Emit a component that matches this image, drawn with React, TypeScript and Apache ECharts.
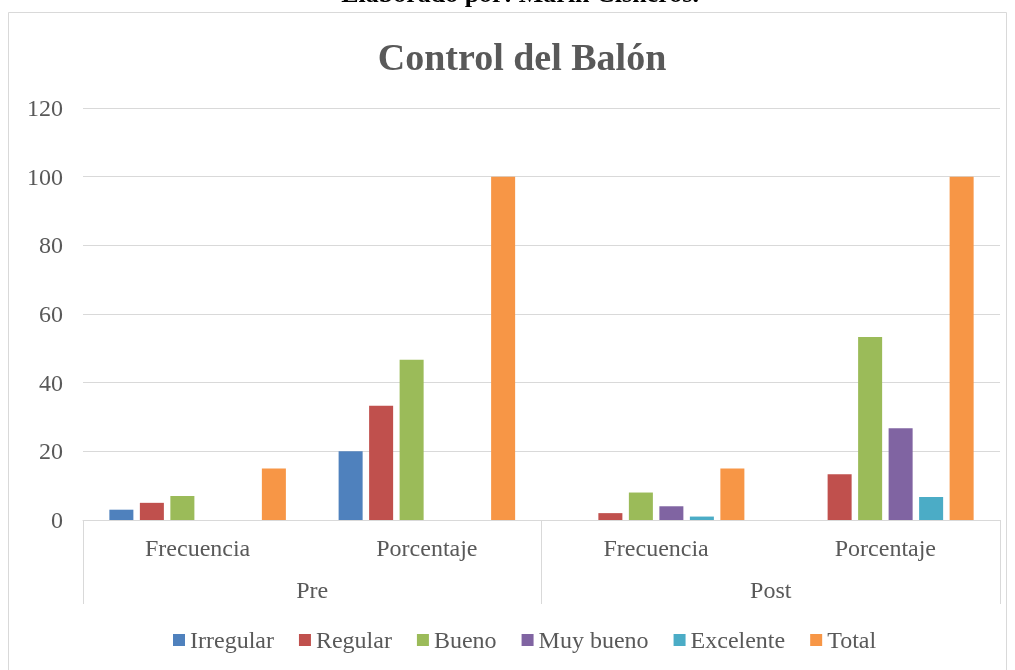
import React, { useEffect, useRef } from "react";
import * as echarts from "echarts";

const categories = ["Frecuencia", "Porcentaje", "Frecuencia", "Porcentaje"];
const groups = ["Pre", "Post"];
const seriesNames = ["Irregular", "Regular", "Bueno", "Muy bueno", "Excelente", "Total"];
const irregular = [3, 20, 0, 0];
const regular = [5, 33.3, 2, 13.3];
const bueno = [7, 46.7, 8, 53.3];
const muyBueno = [0, 0, 4, 26.7];
const excelente = [0, 0, 1, 6.7];
const total = [15, 100, 15, 100];
const yTicks = { min: 0, max: 120, interval: 20 };
const colors = ["#4f81bd", "#c0504d", "#9bbb59", "#8064a2", "#4bacc6", "#f79646"];

const seriesData = [irregular, regular, bueno, muyBueno, excelente, total];

export default function App() {
  const ref = useRef<HTMLDivElement>(null);
  useEffect(() => {
    const chart = echarts.init(ref.current!, null, { renderer: "svg" });
    const font = "'Liberation Serif', 'Times New Roman', serif";
    chart.setOption({
      animation: false,
      textStyle: { fontFamily: font },
      graphic: [
        {
          type: "rect",
          shape: { x: 8.5, y: 12.5, width: 998, height: 680 },
          style: { fill: "#fff", stroke: "#d9d9d9", lineWidth: 1 },
          z: -10,
        },
        {
          type: "text",
          x: 520,
          y: 6,
          style: {
            text: "Elaborado por: Marin Cisneros.",
            font: "bold 26px 'Liberation Serif', serif",
            fill: "#000",
            align: "center",
            verticalAlign: "bottom",
          },
        },
      ],
      title: {
        text: "Control del Balón",
        left: 517,
        textAlign: "center",
        top: 33,
        textStyle: { fontFamily: font, fontSize: 38, fontWeight: "bold", color: "#595959" },
      },
      legend: {
        data: seriesNames,
        top: 623,
        left: 168,
        itemWidth: 12,
        itemHeight: 12,
        itemGap: 25,
        icon: "rect",
        textStyle: { fontFamily: font, fontSize: 24, color: "#595959" },
      },
      grid: { left: 83, right: 15, top: 108, bottom: 150, containLabel: false },
      xAxis: [
        {
          type: "category",
          data: categories,
          axisLine: { lineStyle: { color: "#d9d9d9" } },
          axisTick: { show: false },
          axisLabel: { fontFamily: font, fontSize: 24, color: "#595959", margin: 16 },
        },
        {
          type: "category",
          data: groups,
          position: "bottom",
          axisLine: { show: false },
          axisTick: { show: true, length: 84, lineStyle: { color: "#d9d9d9" } },
          axisLabel: { fontFamily: font, fontSize: 24, color: "#595959", margin: 58 },
        },
      ],
      yAxis: {
        type: "value",
        ...yTicks,
        axisLine: { show: false },
        axisTick: { show: false },
        splitLine: { lineStyle: { color: "#d9d9d9" } },
        axisLabel: { fontFamily: font, fontSize: 24, color: "#595959", margin: 20 },
      },
      series: seriesNames.map((name, i) => ({
        name,
        type: "bar",
        data: seriesData[i],
        xAxisIndex: 0,
        barGap: "27%",
        barCategoryGap: "23%",
        itemStyle: { color: colors[i] },
      })),
    });
    return () => chart.dispose();
  }, []);
  return (
    <div
      ref={ref}
      style={{ position: "fixed", left: 0, top: 0, width: 1015, height: 670 }}
    />
  );
}
